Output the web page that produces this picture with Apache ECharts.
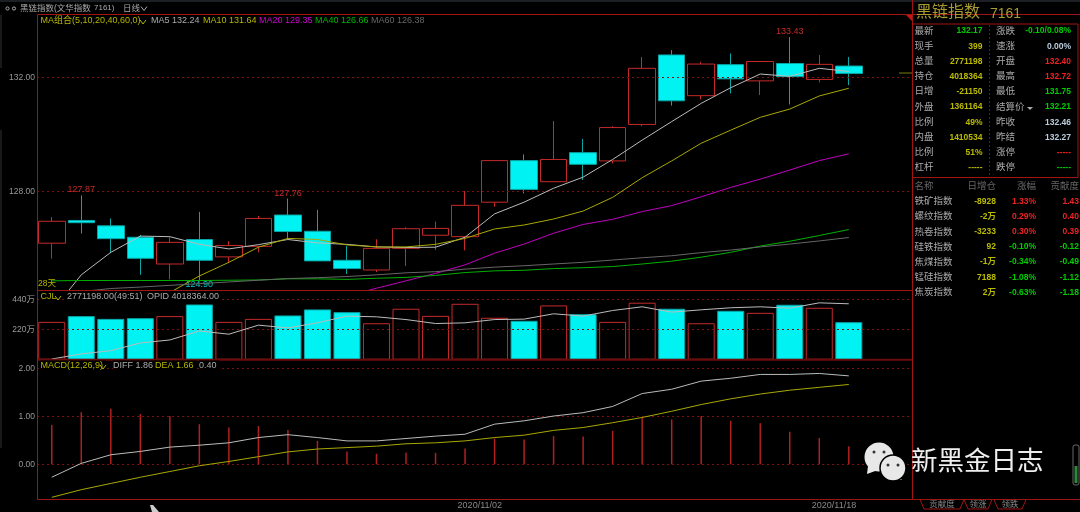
<!DOCTYPE html>
<html>
<head>
<meta charset="utf-8">
<style>html,body{margin:0;padding:0;background:#000}#chart_container{width:1080px;height:512px}</style>
<script src="https://cdn.jsdelivr.net/npm/echarts@6/dist/echarts.min.js"></script>
</head>
<body>
<div id="chart_container"></div>
<script>
var dates = ['2020/10/12','2020/10/13','2020/10/14','2020/10/15','2020/10/16','2020/10/19','2020/10/20','2020/10/21','2020/10/22','2020/10/23',
    '2020/10/26','2020/10/27','2020/10/28','2020/10/29','2020/10/30','2020/11/02','2020/11/03','2020/11/04','2020/11/05','2020/11/06',
    '2020/11/09','2020/11/10','2020/11/11','2020/11/12','2020/11/13','2020/11/16','2020/11/17','2020/11/18','',''];
var dateLabels = ['2020/11/02','2020/11/18'];
var dateTicks = ['2020/11/18'];

// open, close, low, high
var candles = [
    [126.19,126.96,125.65,127.11],[126.99,126.91,126.53,127.87],[126.80,126.35,125.84,127.06],[126.40,125.66,125.08,126.48],
    [125.46,126.22,124.92,126.40],[126.32,125.59,124.90,127.29],[125.71,126.11,125.49,126.26],[126.08,127.06,125.87,127.15],
    [127.18,126.60,126.35,127.76],[126.61,125.57,125.57,127.36],[125.59,125.30,125.11,126.09],[125.25,126.01,125.18,126.33],
    [126.01,126.70,125.39,126.75],[126.47,126.71,125.95,126.95],[126.42,127.52,125.94,128.02],[127.63,129.09,127.47,129.09],
    [129.09,128.08,127.94,129.31],[128.35,129.13,128.35,130.48],[129.37,128.96,128.41,129.85],[129.08,130.25,128.99,130.30],
    [130.36,132.33,130.30,132.73],[132.80,131.19,131.02,132.97],[131.37,132.48,131.24,132.56],[132.46,131.96,131.45,132.85],
    [131.89,132.57,131.39,132.57],[132.50,132.04,131.06,133.43],[131.94,132.47,131.84,132.80],[132.41,132.15,131.74,132.73]
];
var ma5 = [123.79,125.08,125.87,126.44,126.42,126.15,125.99,126.14,126.32,126.20,126.15,126.06,126.04,126.05,126.40,127.22,127.63,128.12,128.51,129.13,129.81,130.46,131.10,131.65,132.13,132.05,132.33,132.22];
var ma10 = ['-','-','-','-',124.46,125.04,125.52,126.05,126.36,126.32,126.13,126.06,126.06,126.15,126.36,126.69,126.83,127.04,127.32,127.80,128.49,129.08,129.70,130.16,130.61,130.90,131.36,131.63];
var ma20 = ['-','-','-','-','-','-','-','-','-','-',124.34,124.61,124.87,125.13,125.43,125.84,126.16,126.54,126.85,127.03,127.30,127.51,127.82,128.15,128.44,128.76,129.09,129.33];
var ma40 = [124.87,124.88,124.88,124.88,124.88,124.88,124.89,124.90,124.94,124.94,124.92,124.96,124.99,125.06,125.16,125.22,125.24,125.30,125.33,125.37,125.46,125.56,125.70,125.87,126.09,126.26,126.46,126.67];
var ma60 = ['-',124.49,124.60,124.65,124.71,124.77,124.83,124.89,124.95,124.98,125.02,125.08,125.15,125.19,125.28,125.35,125.40,125.46,125.52,125.60,125.68,125.75,125.86,125.95,126.06,126.16,126.27,126.39];

// volume, in units of 万
var volume = [276,318,298,303,318,403,276,298,323,367,347,266,372,320,408,306,284,396,332,276,416,372,266,357,342,401,379,274];
var volumeMa = [5,42,66,122,144,210,186,252,232,269,318,313,293,264,269,293,296,335,318,359,386,347,364,379,386,376,415,408];

var macdBars = [0.82,1.09,1.16,1.05,1.01,0.84,0.77,0.80,0.72,0.49,0.27,0.22,0.24,0.24,0.33,0.54,0.52,0.59,0.58,0.70,0.98,0.94,1.01,0.91,0.86,0.68,0.55,0.38];
var diff = [-0.27,0.02,0.20,0.27,0.36,0.40,0.45,0.56,0.62,0.56,0.49,0.49,0.54,0.59,0.63,0.84,0.91,1.01,1.08,1.21,1.48,1.57,1.74,1.80,1.88,1.88,1.90,1.85];
var dea = [-0.69,-0.53,-0.40,-0.27,-0.15,-0.03,0.06,0.16,0.26,0.32,0.35,0.38,0.43,0.45,0.49,0.56,0.61,0.71,0.77,0.87,0.98,1.11,1.25,1.37,1.47,1.55,1.61,1.67];

var priceTicks = [128,132];
var volumeTicks = [220,440];
var macdTicks = [0,1,2];

var quoteNamesL = ['最新','现手','总量','持仓','日增','外盘','比例','内盘','比例','杠杆'];
var quoteValuesL = ['132.17','399','2771198','4018364','-21150','1361164','49%','1410534','51%','-----'];
var quoteColorsL = ['#0c0','#bb0','#bb0','#bb0','#bb0','#bb0','#bb0','#bb0','#bb0','#bb0'];
var quoteNamesR = ['涨跌','速涨','开盘','最高','最低','结算价','昨收','昨结','涨停','跌停'];
var quoteValuesR = ['-0.10/0.08%','0.00%','132.40','132.72','131.75','132.21','132.46','132.27','-----','-----'];
var quoteColorsR = ['#0c0','#bcd','#e22','#e22','#0c0','#0c0','#bcd','#bcd','#e22','#0c0'];

var sectorHeader = ['名称','日增仓','涨幅','贡献度'];
var sectorNames = ['铁矿指数','螺纹指数','热卷指数','硅铁指数','焦煤指数','锰硅指数','焦炭指数'];
var sectorOi = ['-8928','-2万','-3233','92','-1万','7188','2万'];
var sectorPct = ['1.33%','0.29%','0.30%','-0.10%','-0.34%','-1.08%','-0.63%'];
var sectorContrib = ['1.43','0.40','0.39','-0.12','-0.49','-1.12','-1.18'];

var FONT = '"Liberation Sans","Noto Sans CJK SC",sans-serif';
var RED = '#c42a2a', FRAME = '#a01414', DASH = '#7a1010', CYAN = '#00f2f2', OLIVE = '#b5b500', GRAY = '#aaa';
var bandW = 29.52;
var panes = [[14.5,290.5],[290.5,359.7],[359.7,499]];
var left = 37;

function txt(x, y, s, color, size, align, bold) {
    return {type:'text', z:60, x:x, y:y, style:{text:s, fill:color, font:(bold?'bold ':'')+(size||9)+'px '+FONT, align:align||'left', verticalAlign:'middle'}};
}
function txtBg(x, y, s, color) {
    var t = txt(x, y, s, color);
    t.style.backgroundColor = '#000';
    t.style.padding = [1,3,1,0];
    return t;
}
function chevron(x, y, color) {
    return {type:'polyline', z:60, shape:{points:[[x,y-2],[x+3,y+2],[x+6,y-2]]}, style:{stroke:color, fill:null, lineWidth:1}};
}
function hline(x1, x2, y, color, w, dash) {
    return {type:'line', z:55, shape:{x1:x1,y1:y,x2:x2,y2:y}, style:{stroke:color, lineWidth:w||1, lineDash:dash||null}};
}
function vline(x, y1, y2, color, w, dash) {
    return {type:'line', z:55, shape:{x1:x,y1:y1,x2:x,y2:y2}, style:{stroke:color, lineWidth:w||1, lineDash:dash||null}};
}

var elements = [];
// everything right of the plot sits on a black panel
elements.push({type:'rect', z:50, shape:{x:913,y:0,width:167,height:512}, style:{fill:'#000'}});
elements.push({type:'rect', z:51, shape:{x:0,y:0,width:1080,height:2}, style:{fill:'#1c2024'}});
elements.push(vline(1, 15, 68, '#333', 1));
elements.push(vline(1, 130, 448, '#333', 1));

// frame
elements.push(hline(left+0.5, 1080, 14.5, FRAME));
elements.push(hline(left+0.5, 912.5, 290.5, FRAME));
elements.push(hline(left+0.5, 912.5, 359.7, '#6a0c0c', 2));
elements.push(hline(left+0.5, 1080, 499.5, FRAME));
elements.push(vline(left+0.5, 14.5, 499.5, FRAME));
elements.push(vline(912.5, 0, 499.5, FRAME));
elements.push({type:'polygon', z:56, shape:{points:[[906,15],[912,15],[912,21]]}, style:{fill:'#c01818'}});
elements.push(hline(899, 912, 73, '#7a7a10'));

// header rows
elements.push({type:'circle', z:60, shape:{cx:7.5,cy:8.5,r:1.6}, style:{stroke:GRAY,fill:null}});
elements.push({type:'circle', z:60, shape:{cx:14,cy:8.5,r:1.6}, style:{stroke:GRAY,fill:null}});
elements.push(txt(20, 8.5, '黑链指数(文华指数', GRAY, 8.5));
elements.push(txt(94, 8, '7161)', GRAY, 8));
elements.push(txt(123, 8.5, '日线', GRAY, 8.5));
elements.push(chevron(141, 8.5, GRAY));

elements.push(txt(40.5, 21, 'MA组合(5,10,20,40,60,0)', OLIVE));
elements.push(chevron(140, 22, OLIVE));
elements.push(txt(151, 21, 'MA5 132.24', GRAY));
elements.push(txt(203, 21, 'MA10 131.64', OLIVE));
elements.push(txt(259, 21, 'MA20 129.35', '#d000d0'));
elements.push(txt(315, 21, 'MA40 126.66', '#00b400'));
elements.push(txt(371, 21, 'MA60 126.38', '#666'));
elements.push(txt(38, 284, '28天', OLIVE, 8.5));

elements.push(txtBg(40.5, 297, 'CJL', OLIVE));
elements.push(chevron(55, 298, OLIVE));
elements.push(txtBg(67, 297, '2771198.00(49:51)', GRAY));
elements.push(txtBg(147, 297, 'OPID 4018364.00', GRAY));

elements.push(txtBg(40.5, 366, 'MACD(12,26,9)', OLIVE));
elements.push(chevron(100, 367, OLIVE));
elements.push(txtBg(113, 366, 'DIFF 1.86', GRAY));
elements.push(txtBg(155, 366, 'DEA 1.66', OLIVE));
elements.push(txtBg(199, 366, '0.40', GRAY));

// quote box
elements.push(txt(916, 13, '黑链指数', '#a89c30', 16));
elements.push(txt(990, 14, '7161', '#a89c30', 14));
elements.push(hline(912.5, 1078, 24, FRAME));
elements.push(hline(912.5, 1078, 177.5, FRAME));
elements.push(vline(1078, 24, 177.5, FRAME));
elements.push(vline(989.5, 25, 175, DASH, 1, [2,2]));
quoteNamesL.forEach(function (n, i) {
    var y = 31 + i * 15.2;
    elements.push(txt(914.5, y, n, GRAY, 9.5));
    elements.push(txt(982.5, y, quoteValuesL[i], quoteColorsL[i], 8.5, 'right', true));
    elements.push(txt(996, y, quoteNamesR[i], GRAY, 9.5));
    elements.push(txt(1071, y, quoteValuesR[i], quoteColorsR[i], 8.5, 'right', true));
});
elements.push({type:'polygon', z:60, shape:{points:[[1027,107],[1033,107],[1030,110]]}, style:{fill:GRAY}});

// sector table
elements.push(txt(914.5, 186, sectorHeader[0], '#666', 9.5));
elements.push(txt(996, 186, sectorHeader[1], '#666', 9.5, 'right'));
elements.push(txt(1036, 186, sectorHeader[2], '#666', 9.5, 'right'));
elements.push(txt(1079, 186, sectorHeader[3], '#666', 9.5, 'right'));
sectorNames.forEach(function (n, i) {
    var y = 201.7 + i * 15.1;
    var c = sectorPct[i].charAt(0) === '-' ? '#0c0' : '#e22';
    elements.push(txt(914.5, y, n, GRAY, 9.5));
    elements.push(txt(996, y, sectorOi[i], '#bb0', 8.5, 'right', true));
    elements.push(txt(1036, y, sectorPct[i], c, 8.5, 'right', true));
    elements.push(txt(1079, y, sectorContrib[i], c, 8.5, 'right', true));
});

// tabs below the panel
[['贡献度',920,964],['领涨',964,992],['领跌',994,1026]].forEach(function (t) {
    elements.push({type:'polyline', z:60, shape:{points:[[t[1],499.5],[t[1]+4,509],[t[2]-4,509],[t[2],499.5]]}, style:{stroke:FRAME, fill:null}});
    elements.push(txt((t[1]+t[2])/2, 504.5, t[0], '#888', 8.5, 'center'));
});

// watermark
elements.push({type:'polygon', z:70, shape:{points:[[868,466],[867,474],[878,470]]}, style:{fill:'#e8e8e8'}});
elements.push({type:'circle', z:70, shape:{cx:879,cy:457,r:14.5}, style:{fill:'#e8e8e8'}});
elements.push({type:'polygon', z:71, shape:{points:[[898,476],[902,480],[888,478]]}, style:{fill:'#e8e8e8'}});
elements.push({type:'circle', z:71, shape:{cx:893,cy:468,r:13}, style:{fill:'#e8e8e8', stroke:'#000', lineWidth:1.5}});
[[874,452],[884,452],[888,465],[898,465]].forEach(function (p) {
    elements.push({type:'circle', z:72, shape:{cx:p[0],cy:p[1],r:1.5}, style:{fill:'#333'}});
});
elements.push(txt(911, 463, '新黑金日志', '#eee', 26.5));

// mouse pointer and side scrollbar in the screenshot
elements.push({type:'polygon', z:70, shape:{points:[[150,505],[153,505],[159,512],[152,512]]}, style:{fill:'#ccc'}});
elements.push({type:'rect', z:70, shape:{x:1073,y:445,width:6,height:40,r:2}, style:{stroke:'#666', fill:'#000'}});
elements.push({type:'rect', z:71, shape:{x:1074.5,y:466,width:3,height:17}, style:{fill:'#2a8a3a'}});

function xAxisFor(gridIndex, withLabel) {
    return {
        type:'category', gridIndex:gridIndex, data:dates, boundaryGap:true,
        axisLine:{show:false, onZero:false},
        axisTick:{show:true, inside:true, length:6, lineStyle:{color:'#888'},
            interval:function (i, v) { return dateTicks.indexOf(v) !== -1; }},
        axisLabel:{show:withLabel, color:'#888', fontSize:9, fontFamily:FONT, margin:2, padding:[0,bandW,0,0], hideOverlap:false,
            interval:function (i, v) { return dateLabels.indexOf(v) !== -1; }},
        splitLine:{show:false}
    };
}
function yAxisFor(gridIndex, min, max, ticks, fmt) {
    return {
        type:'value', gridIndex:gridIndex, min:min, max:max, scale:true,
        axisLine:{show:false}, axisTick:{show:false}, splitLine:{show:false},
        axisLabel:{color:'#999', fontSize:8.5, fontFamily:FONT, margin:2, customValues:ticks, formatter:fmt}
    };
}
function guides(ticks) {
    return {
        silent:true, symbol:'none', label:{show:false}, animation:false,
        lineStyle:{color:DASH, type:[2,3], width:1},
        data:ticks.map(function (t) { return {yAxis:t}; })
    };
}
function maLine(name, data, color, gridIndex) {
    return {name:name, type:'line', xAxisIndex:gridIndex||0, yAxisIndex:gridIndex||0, data:data, showSymbol:false, symbol:'none',
        lineStyle:{color:color, width:1}, connectNulls:false, z:5, silent:true};
}
function priceMark(idx, val, text, color, pos) {
    return {coord:[idx,val], symbolSize:1, itemStyle:{color:'rgba(0,0,0,0)'},
        label:{show:true, formatter:text, color:color, fontSize:9, fontFamily:FONT, position:pos, distance:0}};
}

var option = {
    backgroundColor:'#000',
    animation:false,
    grid:panes.map(function (p) {
        return {left:left, top:p[0], width:bandW*dates.length, height:p[1]-p[0]};
    }),
    xAxis:[xAxisFor(0,false), xAxisFor(1,false), xAxisFor(2,true)],
    yAxis:[
        yAxisFor(0,124.53,134.22,priceTicks,function (v) { return v.toFixed(2); }),
        yAxisFor(1,0,505,volumeTicks,function (v) { return v+'万'; }),
        yAxisFor(2,-0.725,2.188,macdTicks,function (v) { return v.toFixed(2); })
    ],
    graphic:{elements:elements},
    series:[
        {
            name:'K', type:'candlestick', data:candles, barWidth:27, z:3,
            itemStyle:{color:'#000', color0:CYAN, borderColor:RED, borderColor0:'#0aa5a5', borderWidth:1},
            markLine:guides(priceTicks),
            markPoint:{silent:true, data:[
                priceMark(1,127.87,'127.87',RED,'top'),
                priceMark(8,127.76,'127.76',RED,'top'),
                priceMark(25,133.43,'133.43',RED,'top'),
                priceMark(5,124.90,'124.90','#00c8c8','bottom')
            ]}
        },
        maLine('MA5',ma5,'#bbb'),
        maLine('MA10',ma10,'#a8a800'),
        maLine('MA20',ma20,'#c000c0'),
        maLine('MA40',ma40,'#00b000'),
        maLine('MA60',ma60,'#666'),
        {
            name:'CJL', type:'bar', xAxisIndex:1, yAxisIndex:1, barWidth:27, z:3,
            data:volume.map(function (v, i) {
                var up = candles[i][1] > candles[i][0];
                return {value:v, itemStyle:up ? {color:'#000', borderColor:RED, borderWidth:1} : {color:CYAN, borderColor:'#0aa5a5', borderWidth:1}};
            }),
            markLine:guides(volumeTicks)
        },
        maLine('VOLMA',volumeMa,'#bbb',1),
        {
            name:'MACD', type:'bar', xAxisIndex:2, yAxisIndex:2, barWidth:1.5, z:3,
            data:macdBars, itemStyle:{color:'#b02020'},
            markLine:guides(macdTicks)
        },
        maLine('DIFF',diff,'#bbb',2),
        maLine('DEA',dea,'#a8a800',2)
    ]
};

var myChart = echarts.init(document.getElementById('chart_container'));
myChart.setOption(option, true);
</script>
</body>
</html>
